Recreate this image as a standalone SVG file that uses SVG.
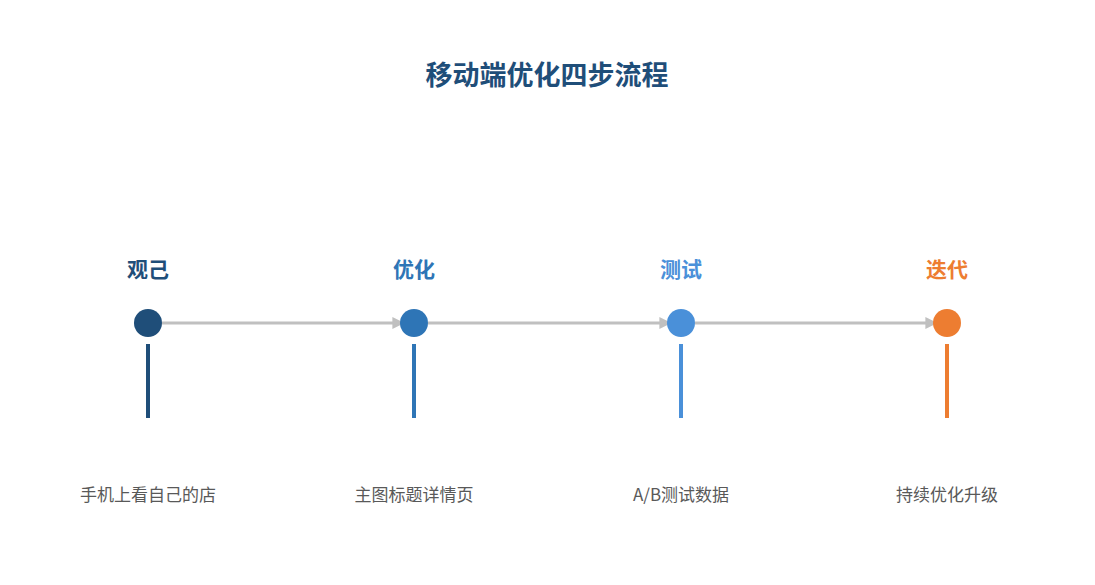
<svg xmlns="http://www.w3.org/2000/svg" width="1095" height="585" viewBox="0 0 1095 585">
<style>
text{font-family:"Noto Sans CJK SC","Liberation Sans",sans-serif;text-anchor:middle}
.t{font-size:27px;font-weight:bold;fill:#1f4e79}
.h{font-size:21px;font-weight:bold}
.d{font-size:17px;fill:#595959}
.c{stroke:#c0c0c0;stroke-width:3;fill:none;marker-end:url(#a)}
</style>
<defs><marker id="a" viewBox="0 0 10 10" refX="8" refY="5" markerWidth="4" markerHeight="4" orient="auto"><path d="M0,0L10,5L0,10z" fill="#c0c0c0"/></marker></defs>
<rect width="1095" height="585" fill="#fff"/>
<text class="t" x="547" y="85">移动端优化四步流程</text>
<g id="connectors">
<line class="c" x1="162" y1="323" x2="402" y2="323"/>
<line class="c" x1="428" y1="323" x2="669" y2="323"/>
<line class="c" x1="695" y1="323" x2="935" y2="323"/>
</g>
<g id="n1"><text class="h" x="148" y="277" fill="#1f4e79">观己</text><circle cx="148" cy="323" r="14" fill="#1f4e79"/><line x1="148" y1="344" x2="148" y2="418" stroke="#1f4e79" stroke-width="4"/><text class="d" x="148" y="501">手机上看自己的店</text></g>
<g id="n2"><text class="h" x="414" y="277" fill="#2e75b6">优化</text><circle cx="414" cy="323" r="14" fill="#2e75b6"/><line x1="414" y1="344" x2="414" y2="418" stroke="#2e75b6" stroke-width="4"/><text class="d" x="414" y="501">主图标题详情页</text></g>
<g id="n3"><text class="h" x="681" y="277" fill="#4a90d9">测试</text><circle cx="681" cy="323" r="14" fill="#4a90d9"/><line x1="681" y1="344" x2="681" y2="418" stroke="#4a90d9" stroke-width="4"/><text class="d" x="681" y="501">A/B测试数据</text></g>
<g id="n4"><text class="h" x="947" y="277" fill="#ed7d31">迭代</text><circle cx="947" cy="323" r="14" fill="#ed7d31"/><line x1="947" y1="344" x2="947" y2="418" stroke="#ed7d31" stroke-width="4"/><text class="d" x="947" y="501">持续优化升级</text></g>
</svg>
